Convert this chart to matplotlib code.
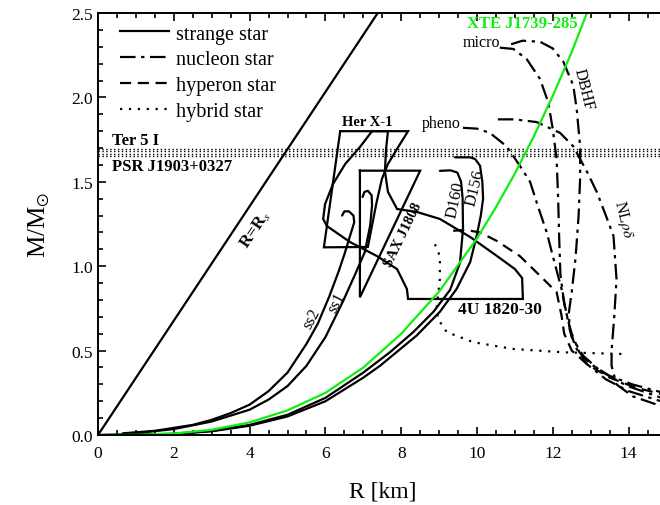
import matplotlib
matplotlib.use("Agg")
import matplotlib.pyplot as plt
from matplotlib.lines import Line2D

plt.rcParams['font.family'] = ['Liberation Serif', 'DejaVu Serif']
plt.rcParams['mathtext.fontset'] = 'stix'

# --- data (R in km, M in solar masses) ---
rs_R = [0.0, 7.38]
rs_M = [0.0, 2.5]

ter5_M = [1.693, 1.681]
psr_M = [1.663, 1.651]

xte_R = [0, 1, 2, 3, 4, 5, 6, 7, 8, 9, 10, 10.5, 11, 11.5, 12, 12.5, 12.9]
xte_M = [0, 0.001, 0.009, 0.031, 0.075, 0.146, 0.25, 0.40, 0.60, 0.85, 1.165,
         1.35, 1.55, 1.77, 2.01, 2.27, 2.5]

ss2_R = [0.65, 1.5, 2.5, 3.0, 3.5, 4.0, 4.5, 5.0, 5.5, 5.8, 6.1, 6.35, 6.5, 6.65,
         6.76, 6.74, 6.62, 6.5, 6.44]
ss2_M = [0.01, 0.025, 0.06, 0.09, 0.13, 0.18, 0.26, 0.37, 0.54, 0.66, 0.82, 0.97,
         1.07, 1.18, 1.26, 1.30, 1.325, 1.325, 1.30]

ss1_R = [0.95, 2.0, 3.0, 4.0, 4.5, 5.0, 5.5, 6.0, 6.46, 6.78, 7.04, 7.18, 7.23,
         7.22, 7.12, 7.03, 6.98]
ss1_M = [0.01, 0.035, 0.08, 0.15, 0.21, 0.29, 0.41, 0.58, 0.79, 0.95, 1.084, 1.24,
         1.36, 1.42, 1.447, 1.44, 1.41]

d160_R = [0, 2, 3, 4, 5, 6, 7, 7.7, 8.32, 8.85, 9.29, 9.55, 9.63, 9.62, 9.58,
          9.48, 9.3, 9.02]
d160_M = [0, 0.007, 0.025, 0.06, 0.12, 0.22, 0.37, 0.49, 0.61, 0.73, 0.86, 1.02,
          1.22, 1.40, 1.50, 1.555, 1.568, 1.565]

d156_R = [0, 2, 3, 4, 5, 6, 7, 7.44, 8.41, 9.02, 9.46, 9.82, 9.99, 10.1, 10.16,
          10.14, 10.08, 9.95, 9.82, 9.42]
d156_M = [0, 0.006, 0.022, 0.055, 0.11, 0.2, 0.34, 0.41, 0.59, 0.73, 0.865, 1.025,
          1.18, 1.30, 1.40, 1.50, 1.595, 1.635, 1.645, 1.645]

micro_R = [10.6, 10.96, 11.31, 11.66, 11.88, 12.0, 12.1, 12.14, 12.17, 12.2, 12.3,
           12.4, 12.5, 12.7, 13.0, 13.5, 14.1, 15.0]
micro_M = [2.295, 2.287, 2.227, 2.11, 1.97, 1.81, 1.635, 1.40, 1.15, 0.95, 0.78,
           0.68, 0.6, 0.49, 0.42, 0.35, 0.30, 0.245]

dbhf_R = [10.9, 11.2, 11.66, 12.0, 12.28, 12.54, 12.63, 12.72, 12.72, 12.68, 12.6,
          12.5, 12.42, 12.45, 12.6, 12.9, 13.4, 14.0, 15.0]
dbhf_M = [2.315, 2.336, 2.33, 2.29, 2.21, 2.07, 1.93, 1.71, 1.52, 1.3, 1.05,
          0.85, 0.72, 0.62, 0.52, 0.42, 0.33, 0.26, 0.19]

pheno_R = [9.63, 10.0, 10.34, 10.78, 11.13, 11.4, 11.6, 11.84, 12.0, 12.23, 12.37,
           12.5, 12.8, 13.25, 13.95, 15.0]
pheno_M = [1.82, 1.815, 1.79, 1.71, 1.595, 1.5, 1.36, 1.2, 1.06, 0.865, 0.707,
           0.58, 0.47, 0.38, 0.292, 0.21]

nlrd_R = [10.55, 11.0, 11.57, 12.19, 12.54, 12.9, 13.16, 13.4, 13.6, 13.68, 13.62,
          13.55, 13.55, 13.68, 14.1, 15.0]
nlrd_M = [1.87, 1.87, 1.854, 1.79, 1.71, 1.56, 1.44, 1.3, 1.18, 0.924, 0.7,
          0.5, 0.41, 0.3, 0.23, 0.16]

hyp_R = [9.37, 9.7, 10.08, 10.52, 11.13, 11.66, 12.1, 12.23, 12.3, 12.5, 12.9,
         13.5, 14.2, 15.0]
hyp_M = [1.21, 1.215, 1.2, 1.15, 1.06, 0.944, 0.846, 0.707, 0.6, 0.5, 0.42,
         0.34, 0.28, 0.235]

hyb_R = [8.89, 9.02, 9.02, 8.94, 8.97, 9.2, 9.9, 10.95, 12.27, 13.85]
hyb_M = [1.13, 1.06, 0.924, 0.766, 0.687, 0.61, 0.55, 0.51, 0.49, 0.48]

# observational constraint regions
her_R = [6.39, 8.18, 7.92, 7.65, 7.49, 7.34, 7.12, 5.96, 6.39]
her_M = [1.80, 1.80, 1.706, 1.606, 1.517, 1.368, 1.114, 1.112, 1.80]

sax_R = [6.91, 8.50, 6.91, 6.91]
sax_M = [1.566, 1.566, 0.816, 1.566]

u4_R = [7.23, 7.65, 7.6, 7.57, 7.65, 7.89, 8.42, 9.02, 9.82, 10.53, 11.0, 11.19,
        11.21, 8.18, 8.15, 7.89, 7.36, 6.65, 6.04, 5.94, 5.99, 6.2, 6.52, 6.91, 7.23]
u4_M = [1.80, 1.80, 1.694, 1.564, 1.44, 1.339, 1.321, 1.28, 1.173, 1.06, 0.983,
        0.93, 0.806, 0.806, 0.865, 0.983, 1.06, 1.143, 1.238, 1.28, 1.368, 1.487,
        1.605, 1.706, 1.80]

# --- styles ---
dashdot = (0, (7, 2.5, 1.5, 2.5))
dashed = (0, (5, 3))
dotted = (0, (1, 3))
lw = 1.6
green = '#11ee11'

fig = plt.figure(figsize=(6.6, 5.06), dpi=100)
ax = fig.add_axes([0.1485, 0.1383, 0.8614, 0.834])

ax.plot(rs_R, rs_M, color='black', lw=lw)
for m in ter5_M + psr_M:
    ax.axhline(m, color='black', lw=1.0, ls=(0, (1, 1.8)))

for R, M in [(ss2_R, ss2_M), (ss1_R, ss1_M), (d160_R, d160_M), (d156_R, d156_M)]:
    ax.plot(R, M, color='black', lw=lw, solid_capstyle='round')
for R, M in [(her_R, her_M), (sax_R, sax_M), (u4_R, u4_M)]:
    ax.plot(R, M, color='black', lw=lw, solid_joinstyle='miter')

for R, M in [(micro_R, micro_M), (dbhf_R, dbhf_M), (pheno_R, pheno_M), (nlrd_R, nlrd_M)]:
    ax.plot(R, M, color='black', lw=lw, ls=dashdot)
ax.plot(hyp_R, hyp_M, color='black', lw=lw, ls=dashed)
ax.plot(hyb_R, hyb_M, color='black', lw=lw, ls=dotted)

ax.plot(xte_R, xte_M, color=green, lw=lw)

# --- axes ---
ax.set_xlim(0, 15)
ax.set_ylim(0, 2.5)
ax.set_xticks([0, 2, 4, 6, 8, 10, 12, 14])
ax.set_xticks([i * 0.5 for i in range(31)], minor=True)
ax.set_yticks([0, 0.5, 1.0, 1.5, 2.0, 2.5])
ax.set_yticklabels(['0.0', '0.5', '1.0', '1.5', '2.0', '2.5'])
ax.set_yticks([i * 0.1 for i in range(26)], minor=True)
ax.tick_params(which='both', direction='in', top=True, right=False, width=1.2,
               labelsize=12.5)
ax.tick_params(which='major', length=6)
ax.tick_params(which='minor', length=3.5)
ax.tick_params(axis='x', pad=7)
for s in ax.spines.values():
    s.set_linewidth(1.4)

ax.set_xlabel('R [km]', fontsize=17, labelpad=14)
ax.set_ylabel(r'M/M$_{\odot}$', fontsize=18, labelpad=14)

# --- legend ---
handles = [Line2D([], [], color='black', lw=lw),
           Line2D([], [], color='black', lw=lw, ls=dashdot),
           Line2D([], [], color='black', lw=lw, ls=dashed),
           Line2D([], [], color='black', lw=lw, ls=dotted)]
ax.legend(handles, ['strange star', 'nucleon star', 'hyperon star', 'hybrid star'],
          loc='upper left', bbox_to_anchor=(0.038, 0.973), frameon=False,
          fontsize=14.5, handlelength=2.45, handletextpad=0.35,
          labelspacing=0.33, borderpad=0, borderaxespad=0)

# --- annotations ---
ax.text(0.38, 1.75, 'Ter 5 I', fontsize=12, fontweight='bold', va='center')
ax.text(0.38, 1.595, 'PSR J1903+0327', fontsize=12, fontweight='bold', va='center')
ax.text(6.44, 1.855, 'Her X-1', fontsize=10.5, fontweight='bold', va='center')
ax.text(8.05, 1.19, 'SAX J1808', fontsize=10.5, fontweight='bold', va='center',
        ha='center', rotation=64)
ax.text(9.5, 0.745, '4U 1820-30', fontsize=12.5, fontweight='bold', va='center')
ax.text(9.73, 2.44, 'XTE J1739-285', fontsize=12, fontweight='bold', va='center',
        color=green)
ax.text(4.15, 1.22, r'R=R$_{s}$', fontsize=12.5, fontweight='bold', va='center',
        ha='center', rotation=56)
ax.text(5.65, 0.69, 'ss2', fontsize=11.5, va='center', ha='center', rotation=62)
ax.text(6.3, 0.79, 'ss1', fontsize=11.5, va='center', ha='center', rotation=62)
ax.text(9.42, 1.40, 'D160', fontsize=12, va='center', ha='center', rotation=78)
ax.text(9.95, 1.47, 'D156', fontsize=12, va='center', ha='center', rotation=76)
ax.text(9.63, 2.33, 'micro', fontsize=11.5, va='center')
ax.text(8.55, 1.85, 'pheno', fontsize=11.5, va='center')
ax.text(12.8, 2.05, 'DBHF', fontsize=11.5, va='center', ha='center', rotation=-76)
ax.text(13.85, 1.28, r'NL$\rho\delta$', fontsize=11.5, va='center', ha='center',
        rotation=-76)

fig.savefig('out.png', dpi=100)
